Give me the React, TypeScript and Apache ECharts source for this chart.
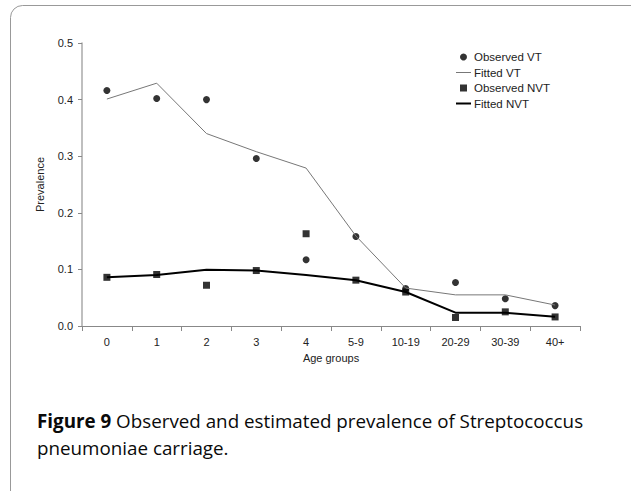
import React, { useEffect, useRef } from "react";
import * as echarts from "echarts";

const ageGroups = ["0", "1", "2", "3", "4", "5-9", "10-19", "20-29", "30-39", "40+"];
const observedVT = [0.416, 0.402, 0.4, 0.296, 0.117, 0.158, 0.066, 0.077, 0.048, 0.036];
const fittedVT = [0.401, 0.429, 0.34, 0.308, 0.279, 0.159, 0.067, 0.055, 0.055, 0.037];
const observedNVT = [0.086, 0.091, 0.072, 0.098, 0.163, 0.081, 0.06, 0.015, 0.025, 0.016];
const fittedNVT = [0.086, 0.09, 0.0995, 0.098, 0.09, 0.081, 0.06, 0.0235, 0.0235, 0.0165];
const yTicks = [0, 0.1, 0.2, 0.3, 0.4, 0.5];

export default function App() {
  const ref = useRef<HTMLDivElement>(null);
  useEffect(() => {
    document.body.style.margin = "0";
    const chart = echarts.init(ref.current!, null, { renderer: "svg" });
    const axisFont = { fontFamily: "Liberation Sans", fontSize: 11, color: "#222" };
    chart.setOption({
      animation: false,
      backgroundColor: "#fff",
      grid: { left: 82, right: 51, top: 43, bottom: 165 },
      title: {
        left: 37,
        top: 407,
        padding: 0,
        text: "{b|Figure 9} Observed and estimated prevalence of Streptococcus\npneumoniae carriage.",
        textStyle: {
          fontFamily: "Open Sans",
          fontSize: 18.8,
          fontWeight: "normal",
          color: "#0a0a0a",
          lineHeight: 27,
          rich: {
            b: { fontFamily: "Open Sans", fontSize: 18.8, fontWeight: "bold", color: "#0a0a0a", lineHeight: 27 },
          },
        },
      },
      legend: {
        orient: "vertical",
        left: 456,
        top: 51,
        padding: 0,
        itemWidth: 15,
        itemHeight: 7,
        itemGap: 3.5,
        textStyle: { ...axisFont, fontSize: 11.5, padding: [0, 0, 0, -2] },
        data: [
          { name: "Observed VT", icon: "circle" },
          { name: "Fitted VT", icon: "path://M0,0h15v1h-15z" },
          { name: "Observed NVT", icon: "path://M0,0h7v7h-7z" },
          { name: "Fitted NVT", icon: "path://M0,0h15v2h-15z" },
        ],
      },
      xAxis: {
        type: "category",
        data: ageGroups,
        boundaryGap: true,
        name: "Age groups",
        nameLocation: "middle",
        nameGap: 26,
        nameTextStyle: axisFont,
        axisLine: { lineStyle: { color: "#888", width: 1 } },
        axisTick: { show: true, length: 5, lineStyle: { color: "#888" } },
        axisLabel: { ...axisFont, margin: 10 },
        splitLine: { show: false },
      },
      yAxis: {
        type: "value",
        min: 0,
        max: 0.5,
        interval: 0.1,
        name: "Prevalence",
        nameLocation: "middle",
        nameGap: 37,
        nameTextStyle: axisFont,
        axisLine: { show: true, lineStyle: { color: "#aaa", width: 1.5 } },
        axisTick: { show: true, length: 4, lineStyle: { color: "#888" } },
        axisLabel: {
          ...axisFont,
          margin: 9,
          formatter: (v: number) => {
            const t = yTicks.find((x) => Math.abs(x - v) < 1e-9);
            return (t ?? v).toFixed(1);
          },
        },
        splitLine: { show: false },
      },
      graphic: [
        {
          type: "rect",
          silent: true,
          z: 100,
          shape: { x: 10.5, y: 5.5, width: 660, height: 520, r: 12 },
          style: { fill: "none", stroke: "#999", lineWidth: 1 },
        },
      ],
      series: [
        {
          name: "Observed VT",
          type: "scatter",
          data: observedVT,
          symbol: "circle",
          symbolSize: 7,
          itemStyle: { color: "#000" },
        },
        {
          name: "Fitted VT",
          type: "line",
          data: fittedVT,
          symbol: "none",
          lineStyle: { color: "#777", width: 1 },
          itemStyle: { color: "#777" },
        },
        {
          name: "Observed NVT",
          type: "scatter",
          data: observedNVT,
          symbol: "rect",
          symbolSize: 7,
          itemStyle: { color: "#000" },
        },
        {
          name: "Fitted NVT",
          type: "line",
          data: fittedNVT,
          symbol: "none",
          lineStyle: { color: "#000", width: 2 },
          itemStyle: { color: "#000" },
        },
      ],
    });
    return () => chart.dispose();
  }, []);
  return <div ref={ref} style={{ width: 631, height: 491 }} />;
}
